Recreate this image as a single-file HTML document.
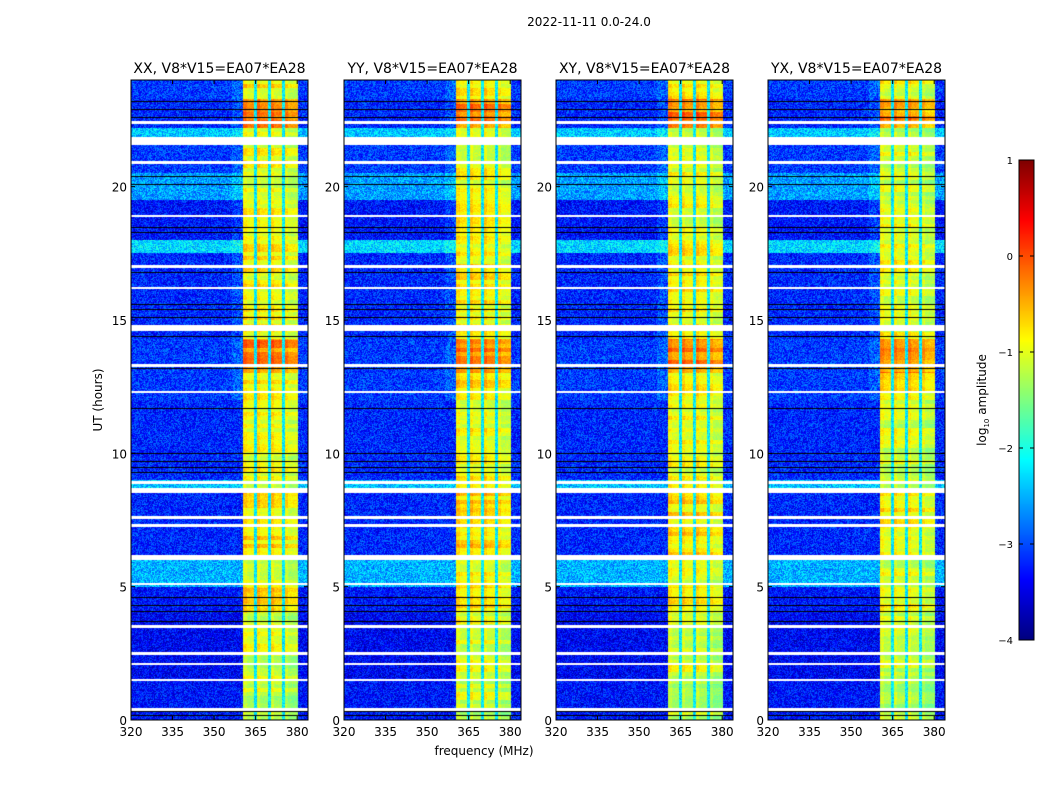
<!DOCTYPE html>
<html><head><meta charset="utf-8">
<style>
body{margin:0;background:#fff;width:1050px;height:800px;position:relative;overflow:hidden;font-family:"DejaVu Sans","Liberation Sans",sans-serif;}
canvas{position:absolute;}
svg{position:absolute;left:0;top:0;font-family:"DejaVu Sans","Liberation Sans",sans-serif;}
</style></head>
<body>
<canvas id="c0" width="177" height="640" style="left:131px;top:80px"></canvas>
<canvas id="c1" width="177" height="640" style="left:344px;top:80px"></canvas>
<canvas id="c2" width="177" height="640" style="left:556px;top:80px"></canvas>
<canvas id="c3" width="177" height="640" style="left:768px;top:80px"></canvas>
<canvas id="cb" width="15" height="480" style="left:1019px;top:160px"></canvas>
<svg id="ov" width="1050" height="800"></svg>
<script>
// ---- data ----
const panelTitles = ["XX, V8*V15=EA07*EA28","YY, V8*V15=EA07*EA28","XY, V8*V15=EA07*EA28","YX, V8*V15=EA07*EA28"];
const panelGain = [0, 0.05, 0.0, -0.1];
const xTicks = [320,335,350,365,380];
const yTicks = [0,5,10,15,20];
const cbTicks = [1,0,-1,-2,-3,-4];
// time segments: start hour, end hour, background log-amplitude, block log-amplitude
const segStart = [0,1.5,4,5,6,8.5,9.0,12,13.0,14.3,17.5,18,19.5,20.5,21.8,22.2,23.3];
const segEnd   = [1.5,4,5,6,8.5,9.0,12,13.0,14.3,17.5,18,19.5,20.5,21.8,22.2,23.3,24];
const segBg    = [-3.3,-3.4,-3.3,-2.5,-3.2,-2.4,-3.2,-3.1,-3.1,-3.2,-2.3,-3.3,-2.6,-3.1,-2.4,-3.2,-3.1];
const segBlock = [-1.2,-1.1,-0.8,-1.0,-0.8,-1.1,-1.0,-0.8,-0.3,-0.9,-0.9,-1.0,-1.0,-1.0,-1.1,-0.3,-0.9];
// flagged rows (white) and dropout rows (black), hours
const whiteRows = [0.4,1.5,2.1,2.5,3.5,5.1,6.1,7.3,7.6,8.6,8.9,12.3,13.3,14.7,16.2,17.0,18.9,20.9,21.7,22.4];
const whiteWidth = [0.07,0.07,0.05,0.05,0.05,0.07,0.15,0.05,0.05,0.15,0.07,0.07,0.07,0.2,0.05,0.07,0.05,0.07,0.25,0.07];
const blackRows = [0.2,0.35,3.7,4.1,4.3,4.6,9.3,9.5,9.7,10.0,11.7,13.2,14.4,15.1,15.4,15.6,16.8,18.3,18.5,20.1,20.4,22.6,22.9,23.2];
// bright block frequency range and gaps (MHz)
const blockStart = 360.5, blockEnd = 380.2;
const blockGaps = [365,370,375];

// ---- scales ----
const W=177,H=640,F0=320,F1=383.9,T1=24;
function xs(f){return (f-F0)/(F1-F0)*W;}
function ys(h){return H-h/T1*H;}
function jet(v){
  const r=Math.min(1,Math.max(0,1.5-Math.abs(4*v-3)));
  const g=Math.min(1,Math.max(0,1.5-Math.abs(4*v-2)));
  const b=Math.min(1,Math.max(0,1.5-Math.abs(4*v-1)));
  return [r*255|0,g*255|0,b*255|0];
}
function hash(a,b,c){let h=(a*374761393+b*668265263+c*2147483647)|0;h=(h^(h>>>13))*1274126177|0;h=h^(h>>>16);return ((h>>>0)%10000)/10000-0.5;}
function segIdx(h){for(let i=0;i<segStart.length;i++)if(h>=segStart[i]&&h<segEnd[i])return i;return segStart.length-1;}

for(let p=0;p<4;p++){
  const ctx=document.getElementById('c'+p).getContext('2d');
  const img=ctx.createImageData(W,H);
  for(let y=0;y<H;y++){
    const h=(H-y-0.5)/H*T1;
    const si=segIdx(h);
    let flag=0;
    for(let k=0;k<whiteRows.length;k++) if(Math.abs(h-whiteRows[k])<whiteWidth[k]/2+0.02) flag=1;
    for(let k=0;k<blackRows.length;k++) if(Math.abs(ys(blackRows[k])-y)<0.6) flag=2;
    const rowv=hash(Math.floor(y/4),p,7)*0.5;
    for(let x=0;x<W;x++){
      const o=(y*W+x)*4;
      if(flag===1){img.data[o]=img.data[o+1]=img.data[o+2]=255;img.data[o+3]=255;continue;}
      if(flag===2){img.data[o]=img.data[o+1]=img.data[o+2]=0;img.data[o+3]=255;continue;}
      const f=F0+(x+0.5)/W*(F1-F0);
      let v;
      if(f>=blockStart&&f<=blockEnd){
        v=segBlock[si]+panelGain[p]+rowv+hash(x,y,p)*0.3;
        if(f>375) v-=0.15;
        for(const g of blockGaps){ if(Math.abs(f-g)<0.45) v=-2.2+hash(x,y,p+9)*0.6; else if(f>g&&f-g<1.6) v+=0.2; }
        if(f-blockStart<1.5) v+=0.15;
      } else {
        v=segBg[si]+hash(x,y,p)*0.9;
        if(f>blockStart-4&&f<blockStart&&h>12&&h<24) v+=0.2;
      }
      const c=jet(Math.min(1,Math.max(0,(v+4)/5)));
      img.data[o]=c[0];img.data[o+1]=c[1];img.data[o+2]=c[2];img.data[o+3]=255;
    }
  }
  ctx.putImageData(img,0,0);
}
{const ctx=document.getElementById('cb').getContext('2d');
for(let y=0;y<480;y++){const c=jet(1-y/479);ctx.fillStyle=`rgb(${c[0]},${c[1]},${c[2]})`;ctx.fillRect(0,y,15,1);}}

// ---- overlay ----
const svg=document.getElementById('ov');const NS='http://www.w3.org/2000/svg';
function el(t,a,txt){const e=document.createElementNS(NS,t);for(const k in a)e.setAttribute(k,a[k]);if(txt!==undefined)e.textContent=txt;svg.appendChild(e);return e;}
const lefts=[131,344,556,768];
let t=el('text',{x:589,y:26,'font-size':12,'text-anchor':'middle'},'2022-11-11 0.0-24.0');


for(let p=0;p<4;p++){
  const L=lefts[p];
  const fr=el('rect',{x:L,y:80,width:W,height:H,fill:'none',stroke:'#000','stroke-width':1});
  
  
  const pt=el('text',{x:L+W/2,y:73,'font-size':14,'text-anchor':'middle'},panelTitles[p]);
  
  
  for(const f of xTicks){
    const x=L+xs(f);
    el('line',{x1:x,x2:x,y1:720,y2:716,stroke:'#000'});
    el('line',{x1:x,x2:x,y1:80,y2:84,stroke:'#000'});
    const tl=el('text',{x:x,y:736,'font-size':12,'text-anchor':'middle'},String(f));
    
    
  }
  for(const h of yTicks){
    const y=80+ys(h);
    el('line',{x1:L,x2:L+4,y1:y,y2:y,stroke:'#000'});
    el('line',{x1:L+W,x2:L+W-4,y1:y,y2:y,stroke:'#000'});
    const tl=el('text',{x:L-4,y:y+5,'font-size':12,'text-anchor':'end'},String(h));
    
    
  }
}
t=el('text',{x:484,y:755,'font-size':12,'text-anchor':'middle'},'frequency (MHz)');


t=el('text',{x:0,y:0,'font-size':12,'text-anchor':'middle',transform:'translate(102,400) rotate(-90)'},'UT (hours)');


el('rect',{x:1019,y:160,width:15,height:480,fill:'none',stroke:'#000'});
for(const v of cbTicks){
  const y=160+(1-v)/5*480;
  el('line',{x1:1019,x2:1023,y1:y,y2:y,stroke:'#000'});
  el('line',{x1:1034,x2:1030,y1:y,y2:y,stroke:'#000'});
  const tl=el('text',{x:1013,y:y+4,'font-size':10,'text-anchor':'end'},(v<0?'\u2212':'')+Math.abs(v));
  
  
}
t=el('text',{x:0,y:0,'font-size':12,'text-anchor':'middle',transform:'translate(986,400) rotate(-90)'});
t.innerHTML='log<tspan font-size="7" dy="3">10</tspan><tspan dy="-3"> amplitude</tspan>';


</script>
</body></html>
